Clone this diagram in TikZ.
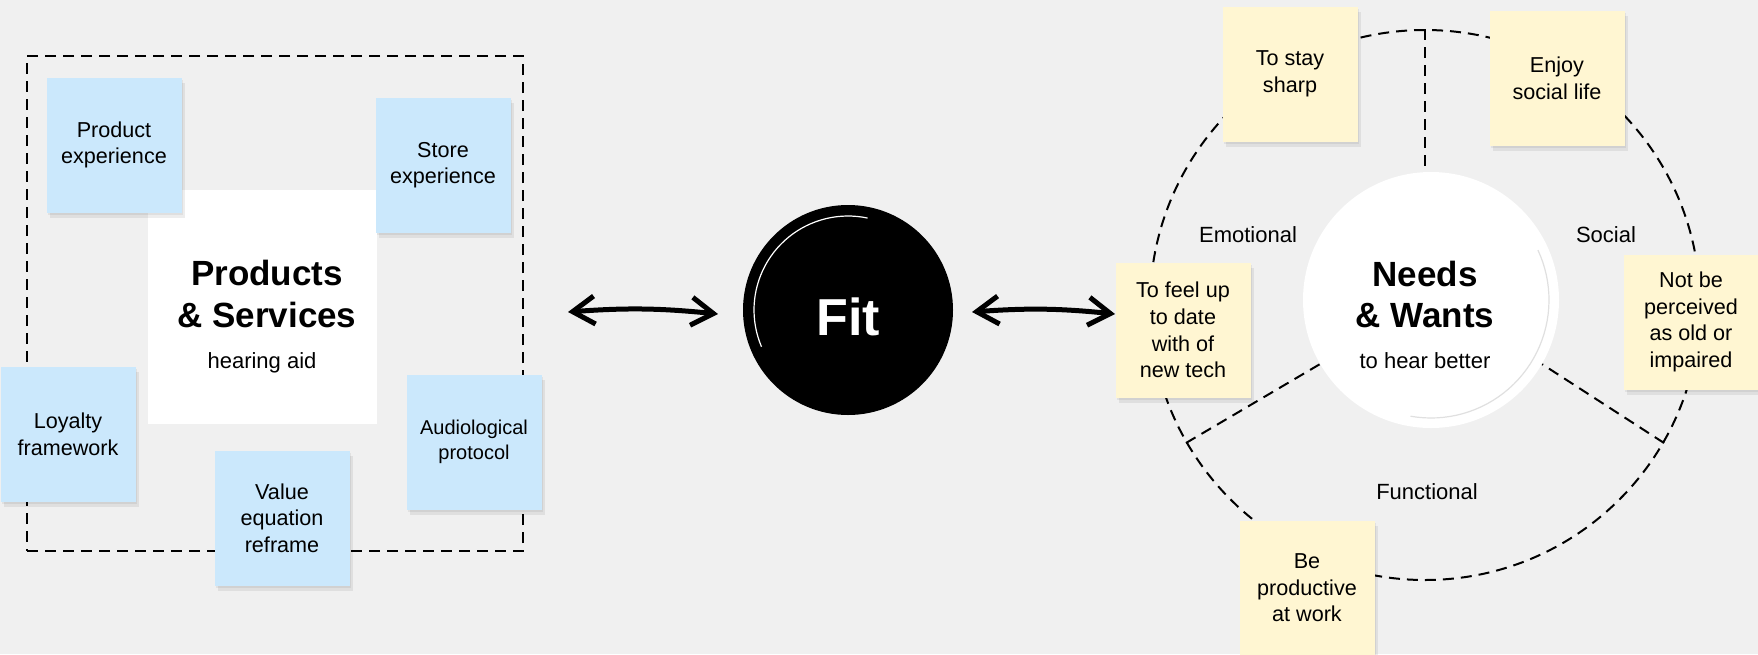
\documentclass[tikz,border=0pt]{standalone}
\usepackage{fontspec}
\setmainfont{Liberation Sans}
\usetikzlibrary{arrows.meta,shadows,shapes.geometric}
\definecolor{bg}{HTML}{F0F0F0}
\definecolor{bluenote}{HTML}{CBE8FC}
\definecolor{yellownote}{HTML}{FFF6D2}
\begin{document}
\begin{tikzpicture}[x=0.5pt,y=-0.5pt,
  note/.style={minimum width=67.5pt, minimum height=67.5pt, inner sep=0pt, align=center,
    font=\fontsize{10.8}{13.3}\selectfont,
    drop shadow={shadow xshift=1.5pt,shadow yshift=-2.5pt,opacity=0.07,fill=black},
    drop shadow={shadow xshift=0.8pt,shadow yshift=-1.2pt,opacity=0.06,fill=black}},
  bnote/.style={note, fill=bluenote},
  ynote/.style={note, fill=yellownote},
  dashline/.style={draw=black, line width=1pt, dash pattern=on 5.5pt off 3.5pt},
  lbl/.style={font=\fontsize{11}{13}\selectfont, anchor=base, inner sep=0pt},
  ttl/.style={font=\fontsize{17.5}{21}\selectfont\bfseries, anchor=base, inner sep=0pt},
  twoway/.style={line width=2.5pt, line cap=round,
    {Straight Barb[length=11pt,width=14pt]}-{Straight Barb[length=11pt,width=14pt]}}
]
\fill[bg] (0,0) rectangle (1758,654);
\useasboundingbox (0,0) rectangle (1758,654);

% ---------- left: products & services ----------
\node[dashline, minimum width=248pt, minimum height=247.5pt, inner sep=0pt] (frame) at (275,303.5) {};
\node[fill=white, minimum width=114.5pt, minimum height=117pt, inner sep=0pt] (prodbox) at (262,307) {};
\node[ttl] (prod1) at (267,285) {Products};
\node[ttl] (prod2) at (267,327) {\& Services};
\node[lbl] (prodsub) at (262,368) {hearing aid};

\node[bnote] (pexp) at (114,145) {Product\\experience};
\node[bnote] (sexp) at (443,165) {Store\\experience};
\node[bnote] (loyal) at (68,434) {Loyalty\\framework};
\node[bnote] (value) at (282,518) {Value\\equation\\reframe};
\node[bnote, font=\fontsize{10}{12.5}\selectfont] (audio) at (474,442) {Audiological\\protocol};

% ---------- middle: fit ----------
\node[circle, fill=black, minimum size=105pt, inner sep=0pt] (fit) at (848,310) {};
\draw[white, line width=0.6pt] plot[domain=78:203, samples=40] ({848+94*cos(\x)},{310-94*sin(\x)});
\node[font=\fontsize{26}{30}\selectfont\bfseries, text=white, anchor=base, inner sep=0pt] (fitlabel) at (848,335) {Fit};

\coordinate (la1) at (568,312);
\coordinate (la2) at (718,314);
\coordinate (ra1) at (972,312);
\coordinate (ra2) at (1115,314);
\draw[twoway] (la1) to[bend left=5] (la2);
\draw[twoway] (ra1) to[bend left=5] (ra2);

% ---------- right: needs & wants ----------
\node[circle, dashline, minimum size=275pt, inner sep=0pt] (ring) at (1425,305) {};
\node[circle, fill=white, minimum size=128pt, inner sep=0pt] (needs) at (1431,300) {};
\draw[black!12, line width=0.6pt] plot[domain=-100:25, samples=40] ({1431+118*cos(\x)},{300-118*sin(\x)});
\draw[dashline] (ring.north) -- (ring.north |- needs.north);
\draw[dashline] (ring.210) -- (needs.210);
\draw[dashline] (ring.330) -- (needs.330);

\node[ttl] (needs1) at (1425,286) {Needs};
\node[ttl] (needs2) at (1425,327) {\& Wants};
\node[lbl] (needssub) at (1425,368) {to hear better};

\node[lbl] (emo) at (1248,242) {Emotional};
\node[lbl] (soc) at (1606,242) {Social};
\node[lbl] (fun) at (1427,499) {Functional};

\node[ynote] (sharp) at (1290,74) {To stay\\sharp};
\node[ynote] (enjoy) at (1557,78) {Enjoy\\social life};
\node[ynote] (tech) at (1183,330) {To feel up\\to date\\with of\\new tech};
\node[ynote] (old) at (1691,322) {Not be\\perceived\\as old or\\impaired};
\node[ynote] (work) at (1307,588) {Be\\productive\\at work};
\end{tikzpicture}
\end{document}
